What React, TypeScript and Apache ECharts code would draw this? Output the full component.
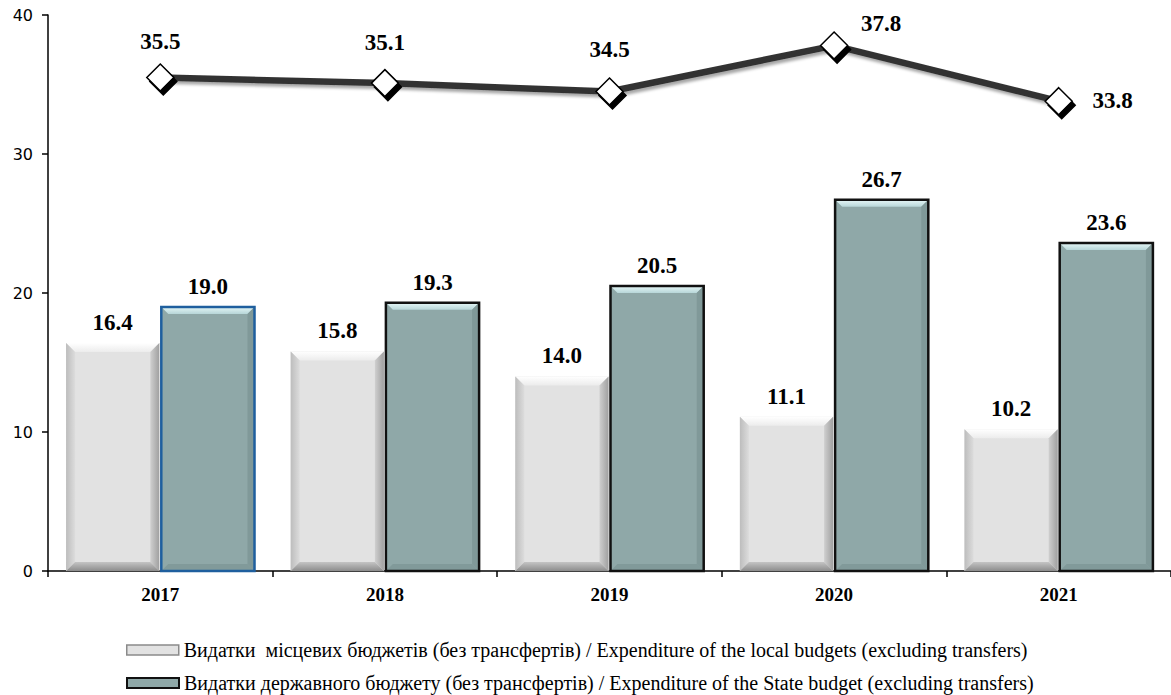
import React, { useEffect, useRef } from "react";
import * as echarts from "echarts";

const years = ["2017", "2018", "2019", "2020", "2021"];
const localExp = [16.4, 15.8, 14.0, 11.1, 10.2];
const stateExp = [19.0, 19.3, 20.5, 26.7, 23.6];
const totalExp = [35.5, 35.1, 34.5, 37.8, 33.8];
const yTicks = [0, 10, 20, 30, 40];

const localName = "Видатки  місцевих бюджетів (без трансфертів) / Expenditure of the local budgets (excluding transfers)";
const stateName = "Видатки державного бюджету (без трансфертів) / Expenditure of the State budget (excluding transfers)";

const labelOffsets: [number, number][] = [
  [0, 0],
  [0, -5],
  [0, -6],
  [47, 14],
  [54, 35],
];

const serifBold = "bold 23px 'Liberation Serif'";

function makeRender(kind: "local" | "state") {
  return (params: any, api: any) => {
    const idx = api.value(0);
    const val = api.value(1);
    const base = api.coord([idx, 0]);
    const top = api.coord([idx, val]);
    const band = api.size([1, 0])[0];
    const w = band * 0.415;
    const cx = base[0];
    const x0 = kind === "local" ? cx - w - 1 : cx + 1;
    const x1 = x0 + w;
    const y0 = top[1];
    const y1 = base[1];
    const b = kind === "local" ? 9 : 7;
    const children: any[] = [];
    if (kind === "local") {
      children.push(
        { type: "rect", shape: { x: x0, y: y0, width: w, height: y1 - y0 }, style: { fill: "#e2e2e2" } },
        {
          type: "polygon",
          shape: { points: [[x0, y0], [x1, y0], [x1 - b, y0 + b], [x0 + b, y0 + b]] },
          style: { fill: new echarts.graphic.LinearGradient(0, 0, 0, 1, [{ offset: 0, color: "#ffffff" }, { offset: 1, color: "#ececec" }]) },
        },
        {
          type: "polygon",
          shape: { points: [[x0, y0], [x0 + b, y0 + b], [x0 + b, y1 - b], [x0, y1]] },
          style: { fill: new echarts.graphic.LinearGradient(0, 0, 1, 0, [{ offset: 0, color: "#bdbdbd" }, { offset: 1, color: "#dcdcdc" }]) },
        },
        {
          type: "polygon",
          shape: { points: [[x1, y0], [x1, y1], [x1 - b, y1 - b], [x1 - b, y0 + b]] },
          style: { fill: new echarts.graphic.LinearGradient(0, 0, 1, 0, [{ offset: 0, color: "#cfcfcf" }, { offset: 1, color: "#a0a0a0" }]) },
        },
        {
          type: "polygon",
          shape: { points: [[x0, y1], [x1, y1], [x1 - b, y1 - b], [x0 + b, y1 - b]] },
          style: { fill: new echarts.graphic.LinearGradient(0, 0, 0, 1, [{ offset: 0, color: "#c4c4c4" }, { offset: 1, color: "#8c8c8c" }]) },
        }
      );
    } else {
      const border = idx === 0 ? "#1f5f9e" : "#111111";
      children.push(
        { type: "rect", shape: { x: x0, y: y0, width: w, height: y1 - y0 }, style: { fill: "#8fa8a8" } },
        {
          type: "polygon",
          shape: { points: [[x0, y0], [x1, y0], [x1 - b, y0 + b], [x0 + b, y0 + b]] },
          style: { fill: new echarts.graphic.LinearGradient(0, 0, 0, 1, [{ offset: 0, color: "#e6f7f7" }, { offset: 1, color: "#b7d6d8" }]) },
        },
        {
          type: "polygon",
          shape: { points: [[x1, y0], [x1, y1], [x1 - b, y1 - b], [x1 - b, y0 + b]] },
          style: { fill: "#809999" },
        },
        {
          type: "polygon",
          shape: { points: [[x0, y1], [x1, y1], [x1 - b, y1 - b], [x0 + b, y1 - b]] },
          style: { fill: "#819a9a" },
        },
        {
          type: "rect",
          shape: { x: x0, y: y0, width: w, height: y1 - y0 },
          style: { fill: "none", stroke: border, lineWidth: 2.5 },
        }
      );
    }
    children.push({
      type: "text",
      style: {
        text: val.toFixed(1),
        x: (x0 + x1) / 2,
        y: y0 - 9,
        align: "center",
        verticalAlign: "bottom",
        font: serifBold,
        fill: "#000",
      },
    });
    return { type: "group", children };
  };
}

const legendCommon = {
  orient: "horizontal",
  left: 126,
  itemWidth: 52,
  itemHeight: 10,
  itemGap: 0,
  padding: 0,
  selectedMode: false,
  textStyle: { fontFamily: "'Liberation Serif'", fontSize: 20, color: "#000", lineHeight: 20 },
};

export default function App() {
  const ref = useRef<HTMLDivElement>(null);
  useEffect(() => {
    if (!ref.current) return;
    const chart = echarts.init(ref.current, null, { renderer: "svg" });
    chart.setOption({
      animation: false,
      backgroundColor: "#ffffff",
      grid: { left: 48, right: 0, top: 15, bottom: 124, containLabel: false },
      legend: [
        {
          ...legendCommon,
          top: 640,
          data: [{ name: localName, icon: "rect", itemStyle: { color: "#e2e2e2", borderColor: "#8a8a8a", borderWidth: 1.5 } }],
        },
        {
          ...legendCommon,
          top: 673,
          data: [{ name: stateName, icon: "rect", itemStyle: { color: "#8fa8a8", borderColor: "#111", borderWidth: 2 } }],
        },
      ],
      xAxis: {
        type: "category",
        data: years,
        boundaryGap: true,
        axisLine: { lineStyle: { color: "#000", width: 1.5 } },
        axisTick: { show: true, length: 6, lineStyle: { color: "#000", width: 1.5 } },
        axisLabel: { margin: 14, fontFamily: "'Liberation Serif'", fontWeight: "bold", fontSize: 19, color: "#000" },
      },
      yAxis: {
        type: "value",
        min: yTicks[0],
        max: yTicks[yTicks.length - 1],
        interval: 10,
        splitLine: { show: false },
        axisLine: { show: true, lineStyle: { color: "#000", width: 1.5 } },
        axisTick: { show: true, length: 6, lineStyle: { color: "#000", width: 1.5 } },
        axisLabel: { margin: 15, fontFamily: "'DejaVu Sans'", fontSize: 16, color: "#000" },
      },
      series: [
        {
          name: localName,
          type: "custom",
          renderItem: makeRender("local"),
          itemStyle: { color: "#e2e2e2" },
          encode: { x: 0, y: 1 },
          data: localExp.map((v, i) => [i, v]),
          z: 2,
        },
        {
          name: stateName,
          type: "custom",
          renderItem: makeRender("state"),
          itemStyle: { color: "#8fa8a8" },
          encode: { x: 0, y: 1 },
          data: stateExp.map((v, i) => [i, v]),
          z: 2,
        },
        {
          name: "total",
          type: "line",
          z: 5,
          data: totalExp.map((v, i) => ({
            value: v,
            label: { offset: labelOffsets[i] },
          })),
          lineStyle: {
            color: "#333333",
            width: 6.5,
            shadowColor: "rgba(0,0,0,0.35)",
            shadowBlur: 3,
            shadowOffsetX: 2,
            shadowOffsetY: 3,
          },
          symbol: "diamond",
          symbolSize: 27,
          itemStyle: {
            color: "#ffffff",
            borderColor: "#000",
            borderWidth: 1.5,
            shadowColor: "#000",
            shadowBlur: 0,
            shadowOffsetX: 3,
            shadowOffsetY: 4,
          },
          label: {
            show: true,
            position: "top",
            distance: 10,
            fontFamily: "'Liberation Serif'",
            fontWeight: "bold",
            fontSize: 23,
            color: "#000",
            formatter: (p: any) => Number(p.value).toFixed(1),
          },
        },
      ],
    });
    return () => chart.dispose();
  }, []);
  return (
    <div
      ref={ref}
      style={{ position: "fixed", left: 0, top: 0, width: 1171, height: 695, background: "#fff" }}
    />
  );
}
